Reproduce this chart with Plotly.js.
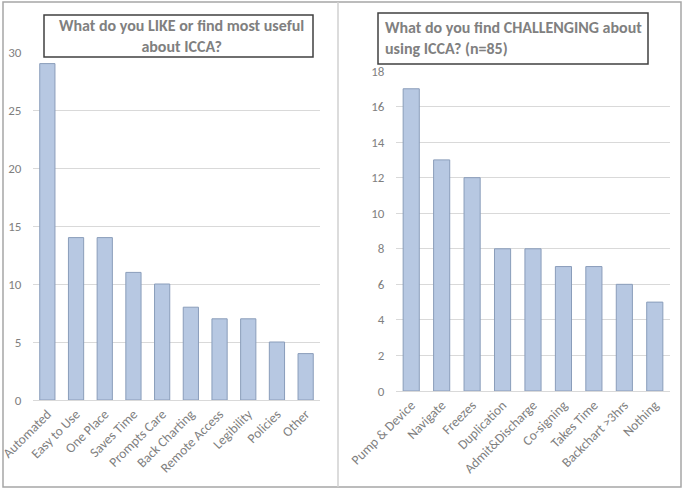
<!DOCTYPE html>
<html>
<head>
<meta charset="utf-8">
<script src="https://cdn.plot.ly/plotly-3.0.1.min.js"></script>
<style>html,body{margin:0;padding:0;background:#fff}#chart{width:685px;height:490px}</style>
</head>
<body>
<div id="chart"></div>
<script>
const likeCategories = ["Automated","Easy to Use","One Place","Saves Time","Prompts Care","Back Charting","Remote Access","Legibility","Policies","Other"];
const likeValues = [29,14,14,11,10,8,7,7,5,4];
const challengeCategories = ["Pump & Device","Navigate","Freezes","Duplication","Admit&Discharge","Co-signing","Takes Time","Backchart >3hrs","Nothing"];
const challengeValues = [17,13,12,8,8,7,7,6,5];
const likeTicks = [0,5,10,15,20,25,30];
const challengeTicks = [0,2,4,6,8,10,12,14,16,18];

const W = 685, H = 490;
const px = x => x / W;
const py = y => 1 - y / H;

const FONT = 'Calibri, Carlito, Lato, "Open Sans", sans-serif';
const barStyle = {color: '#b7c8e2', line: {color: '#8a9dba', width: 1}};
const yTickFont = {family: FONT, size: 13, color: '#7f7f7f'};
const xTickFont = {family: FONT, size: 13.5, color: '#7f7f7f'};

const data = [
  {type: 'bar', x: likeCategories, y: likeValues, xaxis: 'x', yaxis: 'y', marker: barStyle, hoverinfo: 'x+y'},
  {type: 'bar', x: challengeCategories, y: challengeValues, xaxis: 'x2', yaxis: 'y2', marker: barStyle, hoverinfo: 'x+y'}
];

const yCommon = {
  showgrid: true, gridcolor: '#d9d9d9', gridwidth: 1, zeroline: false,
  showline: false, ticks: 'outside', ticklen: 8, tickcolor: 'rgba(0,0,0,0)',
  tickfont: yTickFont, tickmode: 'array', fixedrange: true
};
const xCommon = {
  type: 'category', tickangle: -45, tickfont: xTickFont, showgrid: false,
  showline: true, linecolor: '#d9d9d9', linewidth: 1, ticks: '', zeroline: false, fixedrange: true
};

const layout = {
  width: W, height: H,
  margin: {l: 0, r: 0, t: 0, b: 0},
  paper_bgcolor: '#ffffff', plot_bgcolor: 'rgba(0,0,0,0)',
  showlegend: false, bargap: 0.47,
  xaxis: Object.assign({}, xCommon, {domain: [px(33), px(320)], anchor: 'y'}),
  yaxis: Object.assign({}, yCommon, {domain: [py(400), py(52)], range: [0, 30], tickvals: likeTicks, anchor: 'x'}),
  xaxis2: Object.assign({}, xCommon, {domain: [px(396), px(670)], anchor: 'y2'}),
  yaxis2: Object.assign({}, yCommon, {domain: [py(391), py(71)], range: [0, 18], tickvals: challengeTicks, anchor: 'x2'}),
  shapes: [
    {type: 'rect', xref: 'paper', yref: 'paper', x0: px(3), x1: px(681), y0: py(487), y1: py(2), line: {color: '#a6a6a6', width: 1.5}},
    {type: 'line', xref: 'paper', yref: 'paper', x0: px(338), x1: px(338), y0: py(487), y1: py(2), line: {color: '#d0d0d0', width: 1.5}},
    {type: 'rect', xref: 'paper', yref: 'paper', x0: px(44), x1: px(313), y0: py(57), y1: py(15), line: {color: '#404040', width: 1.5}, fillcolor: '#ffffff', layer: 'above'},
    {type: 'rect', xref: 'paper', yref: 'paper', x0: px(378), x1: px(648), y0: py(64), y1: py(13), line: {color: '#404040', width: 1.5}, fillcolor: '#ffffff', layer: 'above'}
  ],
  annotations: [
    {xref: 'paper', yref: 'paper', x: px(181), y: py(36), xanchor: 'center', yanchor: 'middle', showarrow: false, align: 'center',
     text: '<b>What do you LIKE or find most useful<br>about ICCA?</b>',
     font: {family: FONT, size: 16, color: '#808080'}},
    {xref: 'paper', yref: 'paper', x: px(383), y: py(38), xanchor: 'left', yanchor: 'middle', showarrow: false, align: 'left',
     text: '<b>What do you find CHALLENGING about<br>using ICCA? (n=85)</b>',
     font: {family: FONT, size: 16, color: '#808080'}}
  ]
};

Plotly.newPlot('chart', data, layout, {displayModeBar: false, staticPlot: true});
</script>
</body>
</html>
